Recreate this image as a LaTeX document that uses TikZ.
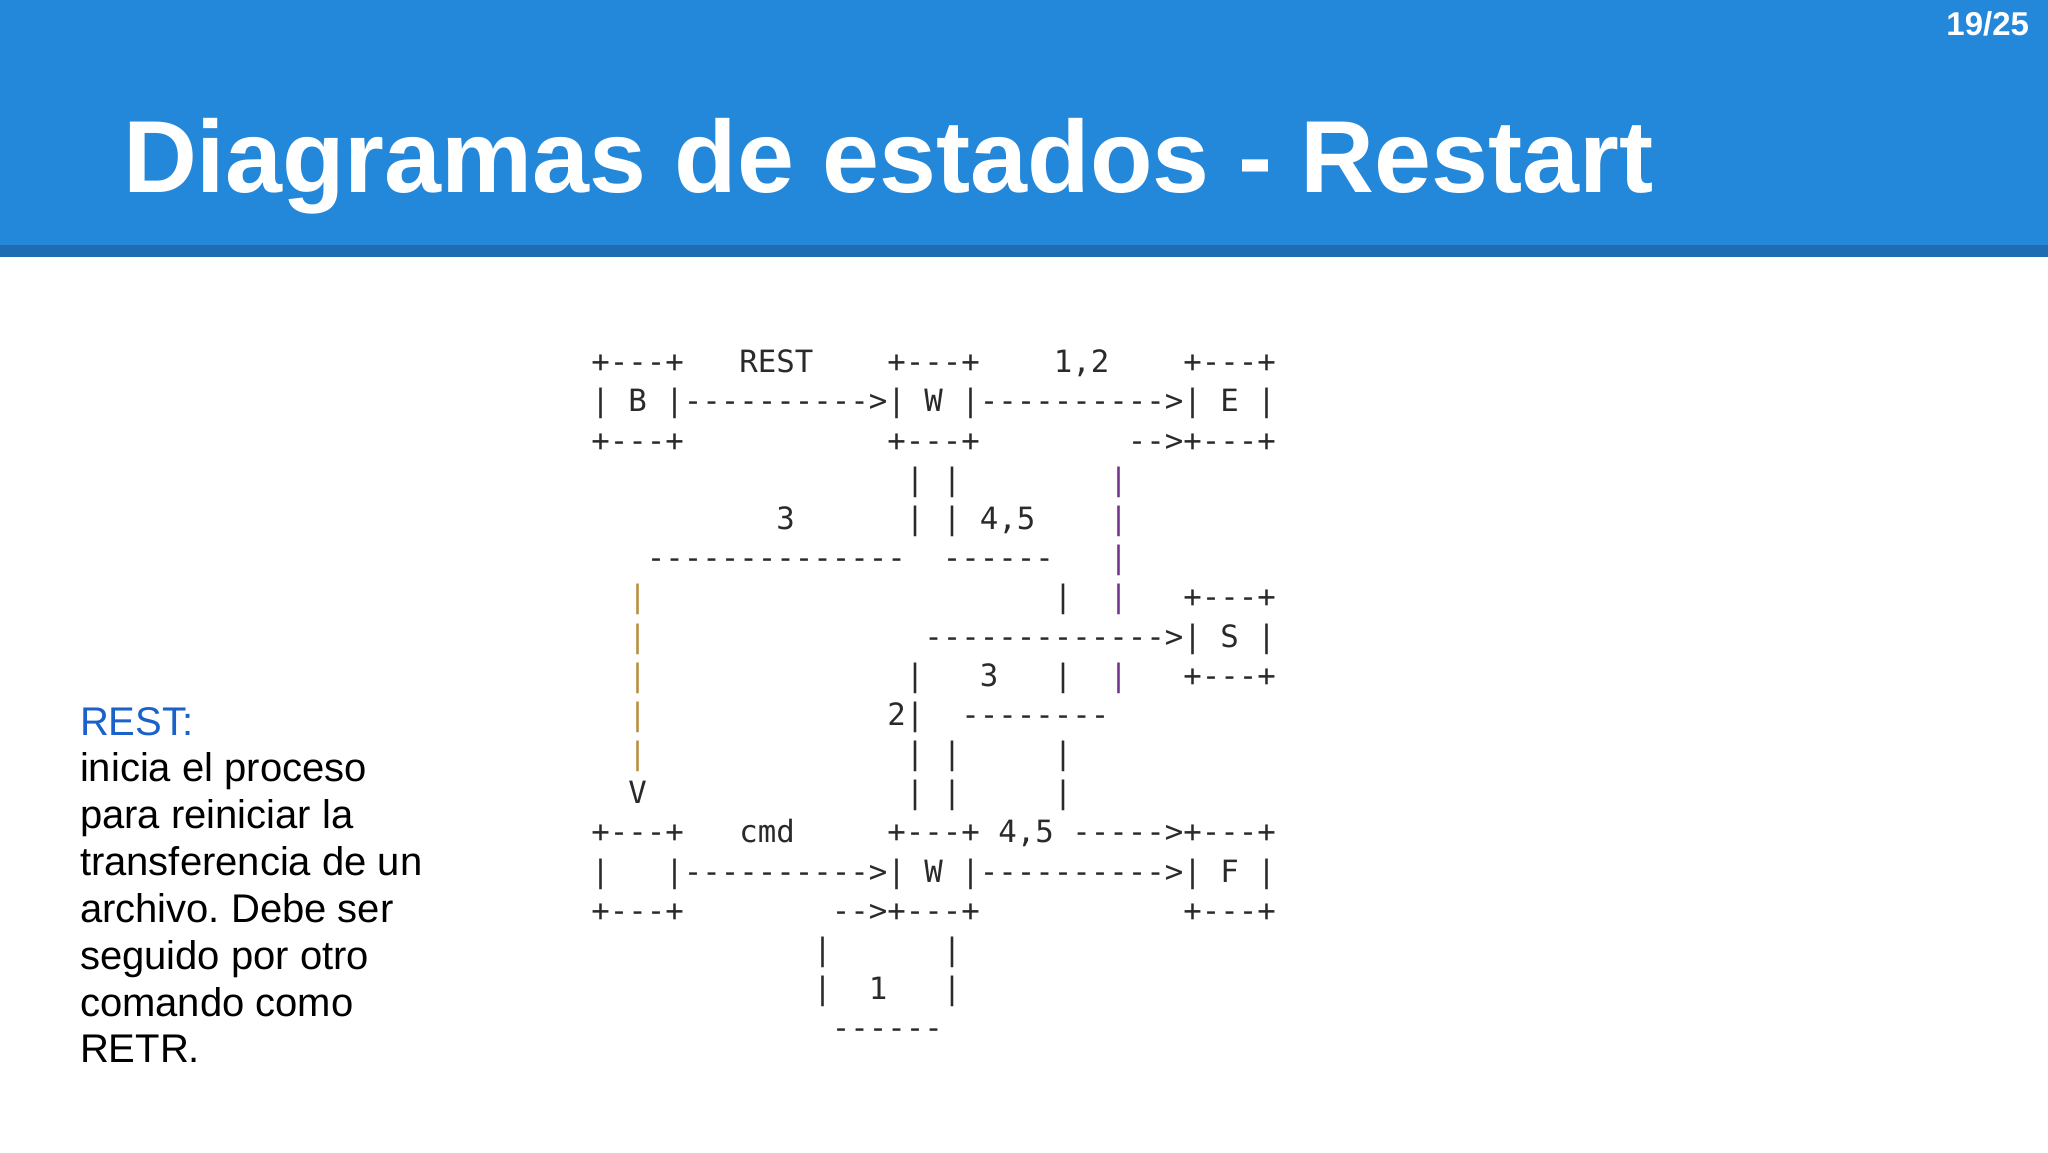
\documentclass[tikz,border=0pt]{standalone}
\usepackage{fontspec}
\setmainfont{Liberation Sans}
\newfontfamily\monof[Ligatures=TeXOff]{DejaVu Sans Mono}
\definecolor{barblue}{HTML}{2387DA}
\definecolor{stripeblue}{HTML}{1F6CB3}
\definecolor{asciiC}{HTML}{2A2A2A}
\definecolor{barP}{HTML}{74338A}
\definecolor{barO}{HTML}{B88E3E}
\definecolor{restblue}{HTML}{1A62C9}
\newlength\cw
\setlength\cw{18.5pt}
\newcommand\gp[1]{\hspace*{#1\cw}}
\newcommand\pb{\textcolor{barP}{|}}
\newcommand\ob{\textcolor{barO}{|}}
\frenchspacing
\begin{document}
\begin{tikzpicture}[x=1pt,y=-1pt,
  ascii/.style={anchor=base west, inner sep=0pt, outer sep=0pt,
    font=\monof\fontsize{30.73}{36}\selectfont, text=asciiC},
  titletext/.style={anchor=base west, inner sep=0pt, outer sep=0pt,
    font=\bfseries\fontsize{102.4}{114}\selectfont, text=white},
  pagenum/.style={anchor=base east, inner sep=0pt, outer sep=0pt,
    font=\bfseries\fontsize{33}{36}\selectfont, text=white},
  desc/.style={anchor=base west, inner sep=0pt, outer sep=0pt,
    font=\fontsize{40}{46}\selectfont, text=black}]
\useasboundingbox (0,0) rectangle (2048,1152);
\fill[white] (0,0) rectangle (2048,1152);
\fill[barblue] (0,0) rectangle (2048,245);
\fill[stripeblue] (0,245) rectangle (2048,257);
\node[titletext] (title) at (123,192) {Diagramas de estados - Restart};
\node[pagenum] (pg) at (2029,35) {19/25};
% description
\node[desc, text=restblue] (d1) at (80,735) {REST:};
\node[desc] (d2) at (80,781.5) {inicia el proceso};
\node[desc] (d3) at (80,828.4) {para reiniciar la};
\node[desc] (d4) at (80,875.3) {transferencia de un};
\node[desc] (d5) at (80,922.2) {archivo. Debe ser};
\node[desc] (d6) at (80,969.1) {seguido por otro};
\node[desc] (d7) at (80,1016) {comando como};
\node[desc] (d8) at (80,1062.9) {RETR.};
% ASCII state diagram
\node[ascii] (r0) at (591.45,372.8) {+---+\gp{3}REST\gp{4}+---+\gp{4}1,2\gp{4}+---+};
\node[ascii] (r1) at (591.45,411.98) {|\gp{1}B\gp{1}|---------->|\gp{1}W\gp{1}|---------->|\gp{1}E\gp{1}|};
\node[ascii] (r2) at (591.45,451.16) {+---+\gp{11}+---+\gp{8}-->+---+};
\node[ascii] (r3) at (591.45,490.34) {\gp{17}|\gp{1}|\gp{8}\pb};
\node[ascii] (r4) at (591.45,529.52) {\gp{10}3\gp{6}|\gp{1}|\gp{1}4,5\gp{4}\pb};
\node[ascii] (r5) at (591.45,568.7) {\gp{3}--------------\gp{2}------\gp{3}\pb};
\node[ascii] (r6) at (591.45,607.88) {\gp{2}\ob\gp{22}|\gp{2}\pb\gp{3}+---+};
\node[ascii] (r7) at (591.45,647.06) {\gp{2}\ob\gp{15}------------->|\gp{1}S\gp{1}|};
\node[ascii] (r8) at (591.45,686.24) {\gp{2}\ob\gp{14}|\gp{3}3\gp{3}|\gp{2}\pb\gp{3}+---+};
\node[ascii] (r9) at (591.45,725.42) {\gp{2}\ob\gp{13}2|\gp{2}--------};
\node[ascii] (r10) at (591.45,764.6) {\gp{2}\ob\gp{14}|\gp{1}|\gp{5}|};
\node[ascii] (r11) at (591.45,803.78) {\gp{2}V\gp{14}|\gp{1}|\gp{5}|};
\node[ascii] (r12) at (591.45,842.96) {+---+\gp{3}cmd\gp{5}+---+\gp{1}4,5\gp{1}----->+---+};
\node[ascii] (r13) at (591.45,882.14) {|\gp{3}|---------->|\gp{1}W\gp{1}|---------->|\gp{1}F\gp{1}|};
\node[ascii] (r14) at (591.45,921.32) {+---+\gp{8}-->+---+\gp{11}+---+};
\node[ascii] (r15) at (591.45,960.5) {\gp{12}|\gp{6}|};
\node[ascii] (r16) at (591.45,999.68) {\gp{12}|\gp{2}1\gp{3}|};
\node[ascii] (r17) at (591.45,1038.86) {\gp{13}------};
\end{tikzpicture}
\end{document}
